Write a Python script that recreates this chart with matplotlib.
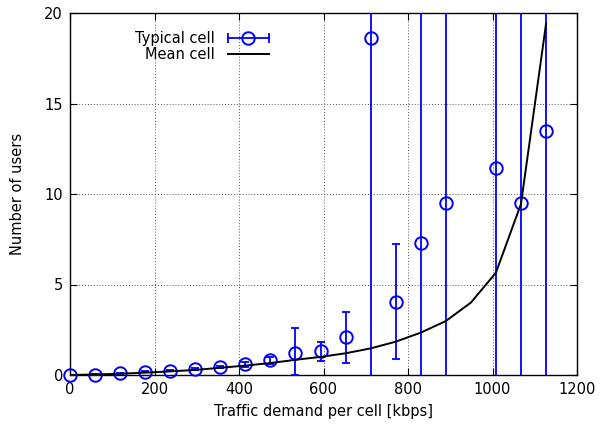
import numpy as np
import matplotlib
matplotlib.use("Agg")
import matplotlib.pyplot as plt
from matplotlib.lines import Line2D
from matplotlib.legend_handler import HandlerLine2D, HandlerTuple

# Data
x_vals = [0, 59.3, 118.6, 177.9, 237.2, 296.5, 355.8, 415.1, 474.4, 533.7,
          593.0, 652.3, 711.6, 770.9, 830.2, 889.5, 948.8, 1008.1, 1067.4, 1126.7]
typical = [0.0, 0.02, 0.09, 0.18, 0.24, 0.33, 0.46, 0.59, 0.81, 1.2,
           1.33, 2.08, 18.6, 4.05, 7.31, 9.5, np.nan, 11.42, 9.48, 13.48]
typ_low = [0.0, 0.01, 0.07, 0.15, 0.2, 0.29, 0.4, 0.45, 0.62, 0.0,
           0.77, 0.68, -30, 0.9, -30, -30, np.nan, -30, -30, -30]
typ_high = [0.0, 0.03, 0.11, 0.21, 0.28, 0.37, 0.52, 0.73, 1.0, 2.58,
            1.82, 3.5, 60, 7.24, 60, 60, np.nan, 60, 60, 60]
mean = [0.0, 0.03, 0.07, 0.13, 0.2, 0.28, 0.4, 0.52, 0.66, 0.84,
        1.0, 1.2, 1.47, 1.84, 2.34, 2.98, 4.0, 5.65, 9.45, 19.4]

xt = [0, 200, 400, 600, 800, 1000, 1200]
yt = [0, 5, 10, 15, 20]

blue = "#0000ff"

fig = plt.figure(figsize=(6.0, 4.26), dpi=100)
ax = fig.add_axes([70/600, 1-375/426, 507/600, 362/426])

x = np.array(x_vals)
t = np.array(typical)
lo = np.array(typ_low)
hi = np.array(typ_high)
err = np.vstack([t - lo, hi - t])

ax.errorbar(x, t, yerr=err, fmt='none', ecolor=blue, elinewidth=1.3,
            capsize=3, capthick=1.3, zorder=3)
ax.plot(x, t, linestyle='none', marker='o', markersize=9, markerfacecolor='none',
        markeredgecolor=blue, markeredgewidth=1.4, zorder=4, clip_on=False)
ax.plot(x, mean, color='black', lw=1.4, zorder=5)

ax.set_xlim(0, 1200)
ax.set_ylim(0, 20)
ax.set_xticks(xt)
ax.set_yticks(yt)
ax.tick_params(direction='in', top=True, right=True, length=5, labelsize=10.5,
               pad=5)
ax.grid(True, linestyle=(0, (1, 2)), color='#555555', lw=0.7)
ax.set_axisbelow(True)
for s in ax.spines.values():
    s.set_linewidth(1.0)
ax.set_xlabel("Traffic demand per cell [kbps]", fontsize=10.5, labelpad=5)
ax.set_ylabel("Number of users", fontsize=10.5, labelpad=14)

# legend
cap_line = Line2D([], [], color=blue, lw=1.3, marker='|', markersize=7,
                  markeredgewidth=1.3)
circ = Line2D([], [], color=blue, linestyle='none', marker='o', markersize=9,
              markerfacecolor='none', markeredgewidth=1.4)
mean_h = Line2D([], [], color='black', lw=1.4)
hm = {cap_line: HandlerLine2D(numpoints=2), circ: HandlerLine2D(numpoints=1),
      mean_h: HandlerLine2D(numpoints=2)}
leg = ax.legend([(cap_line, circ), mean_h], ["Typical cell", "Mean cell"],
                handler_map={tuple: HandlerTuple(ndivide=1, pad=0), **hm},
                markerfirst=False, frameon=False, loc='upper right',
                bbox_to_anchor=(273/600, 1-31/426), bbox_transform=fig.transFigure,
                fontsize=10.5, handlelength=3.4, handletextpad=0.6,
                labelspacing=0.05, borderpad=0, borderaxespad=0)

fig.savefig("out.png", dpi=100)
